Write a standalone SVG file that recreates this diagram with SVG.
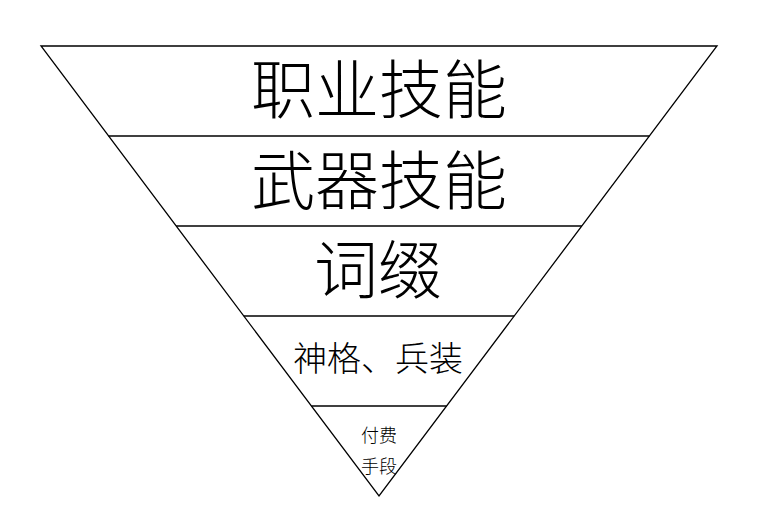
<svg xmlns="http://www.w3.org/2000/svg" width="780" height="529" viewBox="0 0 780 529">
<style>
.ln{stroke:#000;stroke-width:1.3;fill:none}
.t{font-family:"Noto Sans CJK SC","Noto Sans CJK JP",sans-serif;font-weight:300;fill:#000;text-anchor:middle;dominant-baseline:central}
</style>
<rect x="0" y="0" width="780" height="529" fill="#fff"/>
<g id="connectors">
<polygon class="ln" points="41,46 717,46 379,496"/>
<line class="ln" x1="108.6" y1="136" x2="649.4" y2="136"/>
<line class="ln" x1="176.2" y1="226" x2="581.8" y2="226"/>
<line class="ln" x1="243.8" y1="316" x2="514.2" y2="316"/>
<line class="ln" x1="311.4" y1="406" x2="446.6" y2="406"/>
</g>
<g id="level1"><text class="t" x="379" y="85" font-size="64">职业技能</text></g>
<g id="level2"><text class="t" x="379" y="176" font-size="64">武器技能</text></g>
<g id="level3"><text class="t" x="378" y="265" font-size="64">词缀</text></g>
<g id="level4"><text class="t" x="378" y="356" font-size="34">神格、兵装</text></g>
<g id="level5"><text class="t" x="379" y="434" font-size="18">付费</text><text class="t" x="379" y="465" font-size="18">手段</text></g>
</svg>
